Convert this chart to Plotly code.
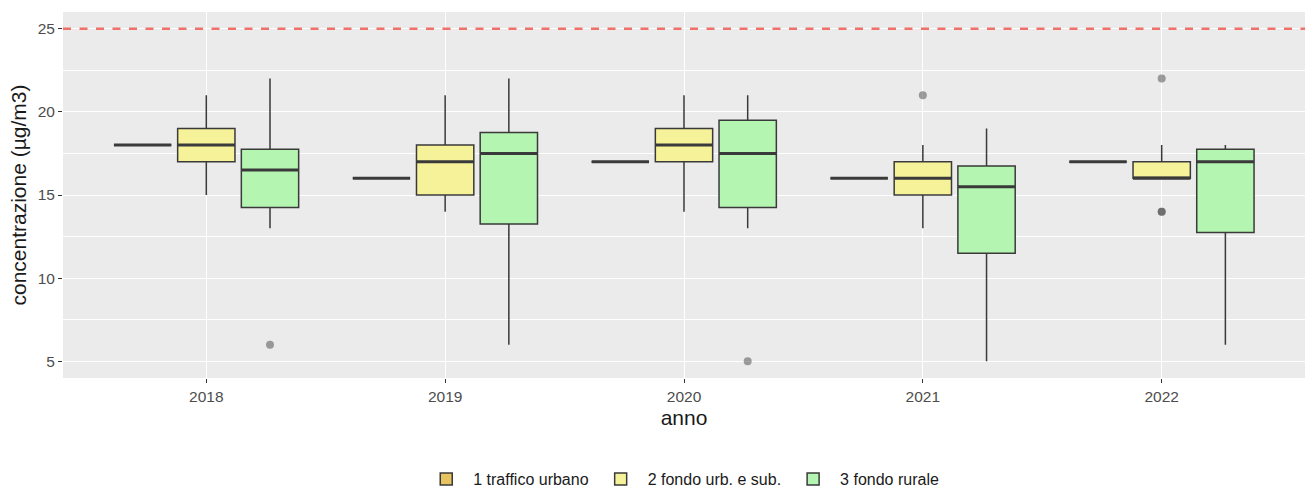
import pandas as pd
import plotly.graph_objects as go

# PM2.5 annual concentrations by station type and year
anni = ["2018", "2019", "2020", "2021", "2022"]

# 1 traffico urbano (one station)
traffico_anno = ["2018", "2019", "2020", "2021", "2022"]
traffico_val = [18, 16, 17, 16, 17]

# 2 fondo urbano e suburbano
fondo_urb_anno = ["2018"] * 9 + ["2019"] * 9 + ["2020"] * 9 + ["2021"] * 9 + ["2022"] * 9
fondo_urb_val = (
    [15, 16, 17, 17, 18, 18, 19, 20, 21]
    + [14, 15, 15, 16, 17, 17, 18, 19, 21]
    + [14, 16, 17, 18, 18, 18, 19, 20, 21]
    + [13, 14, 15, 16, 16, 17, 17, 18, 21]
    + [14, 14, 16, 16, 16, 16, 17, 18, 22]
)

# 3 fondo rurale
fondo_rur_anno = ["2018"] * 9 + ["2019"] * 9 + ["2020"] * 9 + ["2021"] * 9 + ["2022"] * 9
fondo_rur_val = (
    [6, 13, 14.25, 15, 16.5, 17, 17.75, 20, 22]
    + [6, 10, 13.25, 15, 17.5, 18, 18.75, 20, 22]
    + [5, 13, 14.25, 16, 17.5, 18, 19.5, 20, 21]
    + [5, 9, 11.5, 14, 15.5, 16, 16.75, 18, 19]
    + [6, 10, 12.75, 15, 17, 17.5, 17.75, 18, 18]
)

# annual limit value
limite = 25

serie = [
    ("1 traffico urbano", traffico_anno, traffico_val, "#E8C460"),
    ("2 fondo urb. e sub.", fondo_urb_anno, fondo_urb_val, "#F6F29A"),
    ("3 fondo rurale", fondo_rur_anno, fondo_rur_val, "#B4F5B2"),
]

LINE_COL = "#3a3a3a"

fig = go.Figure()
for nome, xs, ys, fill in serie:
    fig.add_trace(
        go.Box(
            x=xs,
            y=ys,
            name=nome,
            offsetgroup=nome,
            fillcolor=fill,
            line=dict(color=LINE_COL, width=1.5),
            marker=dict(color="rgba(70,70,70,0.5)", size=8, line=dict(width=0)),
            boxpoints="outliers",
            quartilemethod="inclusive",
            whiskerwidth=0,
        )
    )

# thicker median bars drawn on top of each box (ggplot-like)
for nome, xs, ys, fill in serie:
    med = pd.Series(ys).groupby(pd.Series(xs)).median().reindex(anni)
    fig.add_trace(
        go.Box(
            x=anni,
            q1=med.values,
            median=med.values,
            q3=med.values,
            lowerfence=med.values,
            upperfence=med.values,
            name=nome,
            offsetgroup=nome,
            fillcolor="rgba(0,0,0,0)",
            line=dict(color=LINE_COL, width=3),
            whiskerwidth=0,
            showlegend=False,
            hoverinfo="skip",
        )
    )

fig.add_shape(
    type="line",
    xref="paper",
    yref="y",
    x0=0,
    x1=1,
    y0=limite,
    y1=limite,
    line=dict(color="#F0706A", width=2.5, dash="8px,8.5px"),
)

font_family = "Liberation Sans, Arial, sans-serif"

fig.update_layout(
    width=1306,
    height=489,
    margin=dict(l=63, r=1, t=12, b=111, autoexpand=False),
    paper_bgcolor="white",
    plot_bgcolor="#EBEBEB",
    boxmode="group",
    boxgap=0.2,
    boxgroupgap=0.1,
    font=dict(family=font_family, color="#4d4d4d"),
    showlegend=True,
    legend=dict(
        orientation="h",
        x=0.522,
        xanchor="center",
        xref="container",
        y=0.02,
        yanchor="middle",
        yref="container",
        itemwidth=44,
        font=dict(size=16, color="#1a1a1a"),
        traceorder="normal",
    ),
    xaxis=dict(
        type="category",
        categoryorder="array",
        categoryarray=anni,
        range=[-0.6, 4.6],
        automargin=False,
        showgrid=True,
        gridcolor="white",
        gridwidth=1.1,
        zeroline=False,
        ticks="outside",
        ticklen=4,
        tickcolor="#333333",
        tickfont=dict(size=15.5, color="#4d4d4d"),
        title=dict(text="anno", font=dict(size=21, color="#1a1a1a"), standoff=6),
    ),
    yaxis=dict(
        range=[4, 26],
        tick0=0,
        dtick=5,
        automargin=False,
        showgrid=True,
        gridcolor="white",
        gridwidth=1.1,
        zeroline=False,
        ticks="outside",
        ticklen=4,
        tickcolor="#333333",
        tickfont=dict(size=15.5, color="#4d4d4d"),
        minor=dict(showgrid=True, gridcolor="white", gridwidth=0.5, tick0=2.5, dtick=5),
        title=dict(
            text="concentrazione (µg/m3)",
            font=dict(size=21, color="#1a1a1a"),
            standoff=5,
        ),
    ),
)

fig.write_html("out.html")
